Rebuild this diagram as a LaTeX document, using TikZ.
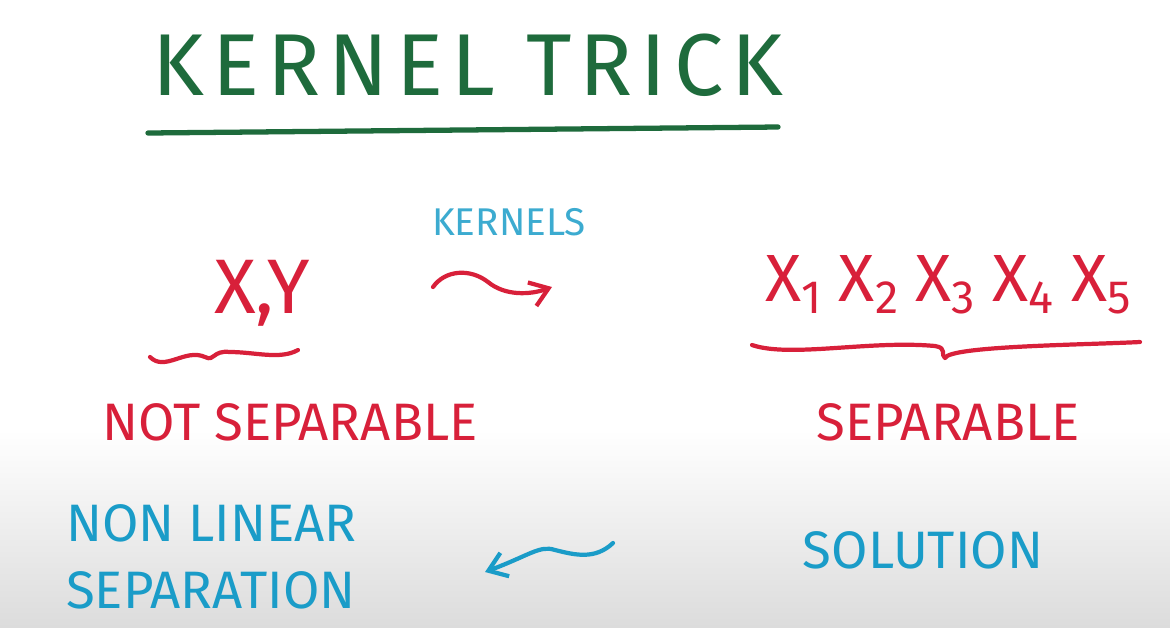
\documentclass[tikz,border=0pt]{standalone}
\usepackage{fontspec}
\setmainfont{Fira Sans}
\usetikzlibrary{arrows.meta,positioning}

\definecolor{boardgreen}{HTML}{1E6B3C}
\definecolor{markerred}{HTML}{D8203A}
\definecolor{markerblue}{HTML}{1A9CC8}
\definecolor{boardgrey}{HTML}{DCDCDC}

\newcommand{\xsub}[1]{X\raisebox{-0.35ex}{\scalebox{0.7}{#1}}}

\begin{document}
\begin{tikzpicture}[
  x=0.02cm, y=-0.02cm,
  title/.style={text=boardgreen, font=\fontsize{50}{50}\selectfont\addfontfeature{LetterSpace=9}},
  redtext/.style={text=markerred, font=\fontsize{30}{30}\selectfont},
  bluetext/.style={text=markerblue, font=\fontsize{30}{38}\selectfont},
  smallblue/.style={text=markerblue!85!white, font=\fontsize{22}{22}\selectfont},
  stroke/.style={line width=2.4pt, line cap=round, line join=round},
  squiggle/.style={stroke, -{Straight Barb[length=3.5mm, width=5mm, line width=2.4pt]}}
]

% board background
\useasboundingbox (0,0) rectangle (1170,627);
\fill[white] (0,0) rectangle (1170,627);
\shade[top color=white, bottom color=boardgrey] (0,430) rectangle (1170,627);

% title
\node[title] (ttl) at (468,65) {KERNEL TRICK};
\draw[stroke, boardgreen, line width=3pt] (148,133) -- (778,127);

% left side
\node[redtext, font=\fontsize{44}{44}\selectfont] (xy) at (262,293) {X,Y};
\draw[stroke, markerred] (150,357) .. controls (165,372) and (185,348) .. (205,357)
  .. controls (215,362) and (212,350) .. (230,352) .. controls (255,352) and (280,360) .. (298,350);
\node[redtext] (notsep) at (290,422) {NOT SEPARABLE};

% mapping
\node[smallblue] (kern) at (509,222) {KERNELS};
\coordinate (ka) at (433,287);
\coordinate (kb) at (552,287);
\draw[squiggle, markerred] (ka) .. controls (445,270) and (470,268) .. (488,282)
  .. controls (505,296) and (530,295) .. (kb);

% right side
\node[redtext, font=\fontsize{38}{38}\selectfont] (feat) at (948,285)
  {\xsub{1} \xsub{2} \xsub{3} \xsub{4} \xsub{5}};
\draw[stroke, markerred] (752,345) .. controls (790,358) and (870,340) .. (935,346)
  .. controls (948,348) and (940,355) .. (945,358) .. controls (950,346) and (1080,345) .. (1140,342);
\node[redtext] (sep) at (948,422) {SEPARABLE};

% bottom row
\node[bluetext, align=left, anchor=west] (nonlin) at (60,557) {NON LINEAR\\SEPARATION};
\node[bluetext] (sol) at (923,550) {SOLUTION};
\coordinate (sa) at (613,543);
\coordinate (sb) at (485,572);
\draw[squiggle, markerblue] (sa) .. controls (595,560) and (575,555) .. (555,550)
  .. controls (540,545) and (530,555) .. (sb);

\end{tikzpicture}
\end{document}
